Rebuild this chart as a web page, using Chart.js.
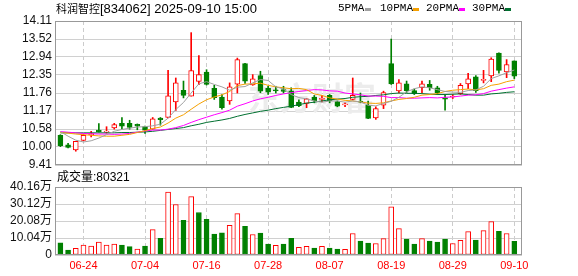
<!DOCTYPE html>
<html>
<head>
<meta charset="utf-8">
<script src="https://cdn.jsdelivr.net/npm/chart.js@4.4.0/dist/chart.umd.min.js"></script>
<style>
  body { margin: 0; background: #fff; }
  #wrap { position: relative; width: 578px; height: 276px; overflow: hidden; }
  canvas { position: absolute; left: 0; top: 0; }
  .txt { position: absolute; white-space: nowrap; color: #000; }
  .sw { position: absolute; width: 6px; height: 3px; }
</style>
</head>
<body>
<div id="wrap">
  <canvas id="priceChart" width="578" height="276"></canvas>
  <canvas id="volChart" width="578" height="276"></canvas>
  <div class="txt" style="left:56px;top:0px;font:13px/17px 'Liberation Sans','Noto Sans CJK SC'"><span style="font-size:11px;font-family:'Noto Sans CJK SC'">科润智控</span>[834062] 2025-09-10 15:00</div>
  <div class="txt" style="left:338px;top:1px;font:11px/15px 'Liberation Mono'">5PMA</div>
  <div class="sw" style="left:365px;top:8px;background:#a0a0a0"></div>
  <div class="txt" style="left:380px;top:1px;font:11px/15px 'Liberation Mono'">10PMA</div>
  <div class="sw" style="left:413px;top:8px;background:#f5a000"></div>
  <div class="txt" style="left:426px;top:1px;font:11px/15px 'Liberation Mono'">20PMA</div>
  <div class="sw" style="left:459px;top:8px;background:#ff00ff"></div>
  <div class="txt" style="left:472px;top:1px;font:11px/15px 'Liberation Mono'">30PMA</div>
  <div class="sw" style="left:505px;top:8px;background:#007030"></div>
  <div class="txt" id="volLabel" style="left:57px;top:169px;font:12px/16px 'Liberation Sans','Noto Sans CJK SC'"></div>
</div>
<script>
const dates = [
  "06-19", "06-20", "06-23", "06-24", "06-25", "06-26", "06-27", "06-30",
  "07-01", "07-02", "07-03", "07-04", "07-07", "07-08", "07-09", "07-10", "07-11",
  "07-14", "07-15", "07-16", "07-17", "07-18", "07-21", "07-22", "07-23", "07-24", "07-25",
  "07-28", "07-29", "07-30", "07-31", "08-01", "08-04", "08-05", "08-06", "08-07", "08-08",
  "08-11", "08-12", "08-13", "08-14", "08-15", "08-18", "08-19", "08-20", "08-21", "08-22",
  "08-25", "08-26", "08-27", "08-28", "08-29", "09-01", "09-02", "09-03", "09-04", "09-05",
  "09-08", "09-09", "09-10",
];

const opens = [
  10.38, 10.07, 9.90, 10.21, 10.40, 10.55, 10.48, 10.62, 10.77, 10.77,
  10.74, 10.66, 10.58, 10.94, 10.96, 11.47, 11.85, 11.66, 12.14, 12.44,
  11.91, 11.63, 11.50, 12.05, 12.72, 12.02, 12.33, 11.91, 11.86, 11.87,
  11.83, 11.46, 11.42, 11.63, 11.55, 11.68, 11.48, 11.37, 11.55, 11.48,
  11.36, 10.95, 11.36, 12.72, 11.83, 12.06, 11.84, 11.93, 12.04, 11.93,
  11.60, 11.63, 11.74, 12.06, 12.29, 12.17, 12.32, 13.06, 12.45, 12.81,
];
const highs = [
  10.40, 10.12, 10.18, 10.40, 10.51, 10.76, 10.66, 10.77, 10.96, 10.87,
  10.75, 10.68, 10.96, 10.96, 12.50, 12.25, 12.15, 13.73, 12.98, 12.52,
  12.01, 11.71, 12.09, 12.90, 12.73, 12.36, 12.47, 11.98, 11.98, 11.98,
  11.93, 11.54, 11.58, 11.68, 11.68, 11.71, 11.50, 11.44, 12.25, 11.76,
  11.50, 11.31, 11.82, 13.52, 12.20, 12.15, 11.89, 12.15, 12.17, 11.98,
  11.71, 11.71, 12.07, 12.40, 12.33, 12.50, 12.91, 13.07, 12.85, 12.81,
];
const lows = [
  10.01, 9.97, 9.86, 10.20, 10.33, 10.48, 10.45, 10.58, 10.58, 10.58,
  10.56, 10.44, 10.58, 10.71, 10.95, 11.19, 11.60, 11.66, 12.03, 12.02,
  11.55, 11.23, 11.39, 11.76, 12.07, 12.01, 11.77, 11.71, 11.76, 11.76,
  11.28, 11.31, 11.28, 11.44, 11.47, 11.44, 11.31, 11.31, 11.53, 11.44,
  10.92, 10.90, 11.25, 12.04, 11.76, 11.78, 11.71, 11.77, 11.85, 11.71,
  11.20, 11.58, 11.71, 11.90, 11.78, 12.09, 12.13, 12.41, 12.26, 12.23,
];
const closes = [
  10.04, 9.98, 10.18, 10.38, 10.41, 10.50, 10.52, 10.73, 10.68, 10.64,
  10.68, 10.55, 10.92, 10.89, 11.67, 12.09, 11.68, 12.49, 12.36, 12.04,
  11.61, 11.28, 11.96, 12.85, 12.15, 12.22, 11.82, 11.79, 11.83, 11.81,
  11.29, 11.35, 11.57, 11.50, 11.58, 11.50, 11.33, 11.39, 11.68, 11.46,
  10.93, 11.25, 11.77, 12.06, 12.09, 11.84, 11.74, 12.06, 11.93, 11.77,
  11.56, 11.65, 12.01, 12.22, 11.84, 12.19, 12.87, 12.50, 12.69, 12.31,
];
const prevClose = 10.40;

// 成交量, 单位: 万
const volumes = [
  7.2, 2.9, 3.9, 5.8, 5.3, 7.6, 5.8, 6.4, 5.8, 4.9,
  3.5, 5.3, 15.0, 9.9, 37.2, 29.8, 20.5, 34.5, 25.1, 21.1,
  12.3, 13.1, 17.5, 24.4, 17.0, 12.1, 12.9, 6.4, 5.7, 6.4,
  9.9, 4.5, 5.1, 4.1, 5.1, 4.1, 3.5, 3.3, 12.7, 8.2,
  7.0, 6.8, 9.7, 28.5, 15.6, 9.4, 6.4, 9.7, 8.2, 7.6,
  9.4, 6.8, 8.6, 13.8, 8.8, 14.4, 19.7, 14.0, 12.7, 8.0321,
];

const ma5 = [
  10.50, 10.35, 10.22, 10.16, 10.20, 10.29, 10.40, 10.51, 10.57, 10.61,
  10.65, 10.66, 10.69, 10.74, 10.94, 11.22, 11.45, 11.76, 12.06, 12.13,
  12.04, 11.96, 11.85, 11.95, 11.97, 12.09, 12.20, 12.17, 11.96, 11.89,
  11.71, 11.61, 11.57, 11.50, 11.46, 11.50, 11.50, 11.46, 11.50, 11.47,
  11.36, 11.34, 11.42, 11.49, 11.62, 11.80, 11.90, 11.96, 11.93, 11.87,
  11.81, 11.79, 11.78, 11.84, 11.86, 11.98, 12.23, 12.32, 12.42, 12.51,
];
const ma10 = [
  10.47, 10.45, 10.42, 10.40, 10.38, 10.36, 10.35, 10.35, 10.38, 10.41,
  10.47, 10.53, 10.60, 10.65, 10.78, 10.94, 11.05, 11.23, 11.40, 11.54,
  11.63, 11.70, 11.81, 12.00, 12.05, 12.06, 12.08, 12.01, 11.96, 11.93,
  11.90, 11.91, 11.87, 11.73, 11.68, 11.60, 11.56, 11.52, 11.50, 11.47,
  11.43, 11.42, 11.44, 11.50, 11.55, 11.58, 11.62, 11.69, 11.71, 11.74,
  11.81, 11.85, 11.87, 11.89, 11.86, 11.90, 12.01, 12.05, 12.13, 12.18,
];
const ma20 = [
  10.50, 10.48, 10.46, 10.44, 10.43, 10.42, 10.42, 10.41, 10.42, 10.44,
  10.48, 10.52, 10.55, 10.55, 10.58, 10.63, 10.70, 10.80, 10.89, 10.97,
  11.05, 11.12, 11.20, 11.33, 11.41, 11.50, 11.57, 11.62, 11.68, 11.73,
  11.77, 11.81, 11.84, 11.87, 11.86, 11.83, 11.82, 11.76, 11.73, 11.70,
  11.66, 11.66, 11.65, 11.61, 11.61, 11.59, 11.59, 11.60, 11.61, 11.60,
  11.62, 11.63, 11.66, 11.69, 11.70, 11.74, 11.82, 11.87, 11.92, 11.96,
];
const ma30 = [
  10.46, 10.46, 10.46, 10.46, 10.46, 10.46, 10.46, 10.46, 10.47, 10.47,
  10.48, 10.49, 10.51, 10.54, 10.57, 10.60, 10.63, 10.69, 10.74, 10.80,
  10.84, 10.88, 10.93, 11.00, 11.06, 11.11, 11.16, 11.20, 11.25, 11.29,
  11.33, 11.38, 11.43, 11.46, 11.50, 11.54, 11.56, 11.58, 11.62, 11.64,
  11.65, 11.68, 11.70, 11.74, 11.76, 11.75, 11.75, 11.74, 11.72, 11.71,
  11.71, 11.72, 11.73, 11.71, 11.69, 11.69, 11.73, 11.75, 11.78, 11.80,
];

const priceTicks = [9.41, 10.00, 10.58, 11.17, 11.76, 12.35, 12.94, 13.52, 14.11];
const volTicks = [0, 10.04, 20.08, 30.12, 40.16];
const dateTicks = ["06-24", "07-04", "07-16", "07-28", "08-07", "08-19", "08-29", "09-10"];

const RED = "#ff0000";
const GREEN = "#008000";
const tickFont = { family: "'Liberation Sans', 'Noto Sans CJK SC'", size: 12 };

const upDay = (i) => closes[i] >= opens[i];
const upVol = (i) => closes[i] >= (i === 0 ? prevClose : closes[i - 1]);

document.getElementById("volLabel").textContent =
  "成交量:" + Math.round(volumes[volumes.length - 1] * 10000);

// plot frame around each panel
const frame = {
  id: "frame",
  afterDraw(chart) {
    const { ctx, chartArea: a } = chart;
    ctx.save();
    ctx.strokeStyle = "#999999";
    ctx.lineWidth = 1;
    ctx.strokeRect(a.left + 0.5, a.top + 0.5, a.right - a.left - 1, a.bottom - a.top - 1);
    ctx.restore();
  },
};

// faint site watermark behind the candles
const watermark = {
  id: "watermark",
  beforeDatasetsDraw(chart) {
    const { ctx } = chart;
    ctx.save();
    ctx.font = "bold 32px 'Noto Sans CJK SC'";
    ctx.fillStyle = "#ececec";
    ctx.textBaseline = "alphabetic";
    ctx.fillText("东方财富", 248, 110);
    ctx.restore();
  },
};

const xScale = (showLabels) => ({
  type: "linear",
  min: -0.7,
  max: 60.0,
  offset: false,
  afterBuildTicks: (s) => {
    s.ticks = dateTicks.map((d) => ({ value: dates.indexOf(d) }));
  },
  afterFit: (s) => {
    s.height = showLabels ? 21 : 0;
  },
  ticks: {
    display: showLabels,
    autoSkip: false,
    maxRotation: 0,
    padding: 4,
    color: RED,
    font: { family: "'Liberation Sans'", size: 11 },
    callback: (v) => dates[v],
  },
  grid: { color: "#cccccc", lineWidth: 1, drawTicks: false, offset: false },
  border: { display: false, dash: [4, 3] },
});

const yScale = (min, max, ticks, fmt) => ({
  min: min,
  max: max,
  afterBuildTicks: (s) => {
    s.ticks = ticks.map((v) => ({ value: v }));
  },
  afterFit: (s) => {
    s.width = 55;
  },
  ticks: {
    autoSkip: false,
    padding: 3,
    color: "#111111",
    font: tickFont,
    callback: fmt,
  },
  grid: { color: "#d0d0d0", drawTicks: false },
  border: { display: false },
});

const maLine = (label, values, color) => ({
  type: "line",
  label: label,
  data: values.map((v, i) => ({ x: i, y: v })),
  borderColor: color,
  borderWidth: 1,
  pointRadius: 0,
  order: 0,
});

const priceChart = new Chart(document.getElementById("priceChart").getContext("2d"), {
  type: "bar",
  data: {
    datasets: [
      maLine("5PMA", ma5, "#a0a0a0"),
      maLine("10PMA", ma10, "#f5a000"),
      maLine("20PMA", ma20, "#ff00ff"),
      maLine("30PMA", ma30, "#007030"),
      {
        label: "body",
        data: opens.map((o, i) => ({ x: i, y: [o, closes[i]] })),
        backgroundColor: opens.map((o, i) => (upDay(i) ? "#ffffff" : GREEN)),
        borderColor: opens.map((o, i) => (upDay(i) ? RED : GREEN)),
        borderWidth: 1,
        borderSkipped: false,
        barThickness: 5,
        minBarLength: 1,
        grouped: false,
        order: 1,
      },
      {
        label: "wick",
        data: lows.map((l, i) => ({ x: i, y: [l, highs[i]] })),
        backgroundColor: lows.map((l, i) => (upDay(i) ? RED : GREEN)),
        borderWidth: 0,
        barThickness: 1,
        grouped: false,
        order: 2,
      },
    ],
  },
  options: {
    responsive: false,
    animation: false,
    layout: { padding: { left: 0, right: 56, top: 21, bottom: 111 } },
    plugins: { legend: { display: false }, tooltip: { enabled: false } },
    scales: {
      x: xScale(false),
      y: yScale(9.41, 14.11, priceTicks, (v) => v.toFixed(2)),
    },
  },
  plugins: [watermark, frame],
});

const volChart = new Chart(document.getElementById("volChart").getContext("2d"), {
  type: "bar",
  data: {
    datasets: [
      {
        label: "成交量",
        data: volumes.map((v, i) => ({ x: i, y: v })),
        backgroundColor: volumes.map((v, i) => (upVol(i) ? "#ffffff" : GREEN)),
        borderColor: volumes.map((v, i) => (upVol(i) ? RED : GREEN)),
        borderWidth: 1,
        borderSkipped: false,
        barThickness: 5,
        grouped: false,
      },
    ],
  },
  options: {
    responsive: false,
    animation: false,
    layout: { padding: { left: 0, right: 56, top: 187, bottom: 0 } },
    plugins: { legend: { display: false }, tooltip: { enabled: false } },
    scales: {
      x: xScale(true),
      y: yScale(0, 40.16, volTicks, (v) => (v === 0 ? "0" : v.toFixed(2) + "万")),
    },
  },
  plugins: [frame],
});
</script>
</body>
</html>
